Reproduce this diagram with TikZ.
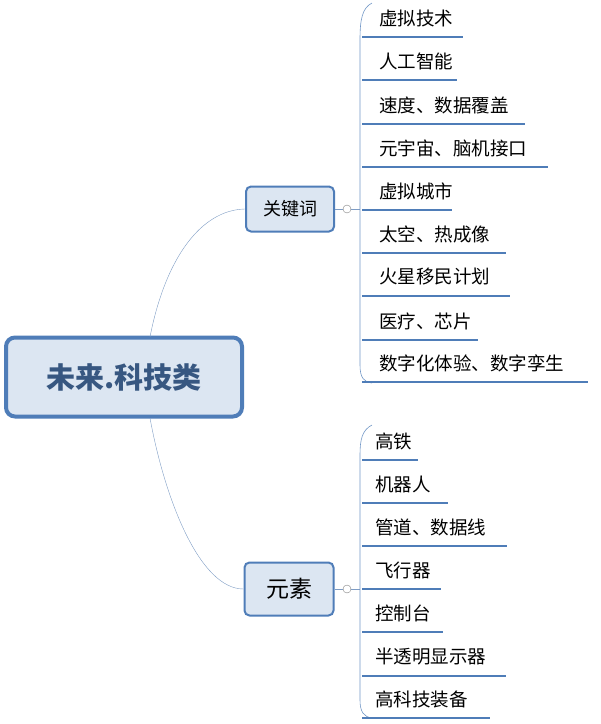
\documentclass[tikz,border=0pt]{standalone}
\usepackage{fontspec}
\setmainfont{Noto Sans CJK SC}
\begin{document}
\begin{tikzpicture}[x=1pt,y=-1pt,
  box/.style={draw=bl,line width=2pt,fill=bf,rounded corners=5pt,inner sep=0pt},
  leaf/.style={anchor=west,inner sep=0pt,font=\fontsize{18.5}{18.5}\selectfont},
  ul/.style={draw=bl,line width=1.6pt},
  br/.style={draw=bl!80,line width=0.6pt},
  knob/.style={circle,draw=gray,fill=white,inner sep=0pt,minimum size=8pt}]
\definecolor{bl}{HTML}{4F7DB8}
\definecolor{bf}{HTML}{DCE6F2}
\definecolor{ln}{HTML}{7E9CC4}
\useasboundingbox (0,0) rectangle (601,724);
\node[box,line width=4pt,rounded corners=9pt,minimum width=236pt,minimum height=79pt,font=\fontsize{29}{29}\selectfont\bfseries,text=bl!70!black] (root) at (124,377) {未来.科技类};
\node[box,minimum width=88pt,minimum height=45pt,font=\fontsize{18}{18}\selectfont] (k) at (290,209) {关键词};
\node[box,minimum width=89pt,minimum height=53pt,font=\fontsize{23}{23}\selectfont] (e) at (289,589) {元素};
\draw[ln] (150,337) .. controls (165,260) and (200,210) .. (k.west);
\draw[ln] (150,418) .. controls (165,500) and (200,589) .. (e.west);
\node[knob] (kc) at (347,209) {};
\node[knob] (ec) at (347,589) {};
\draw[ln] (k.east)--(kc);\draw[ln] (e.east)--(ec);
\coordinate (kb) at (360,209);\coordinate (eb) at (360,589);
\draw[ln] (kc)--(kb);\draw[ln] (ec)--(eb);
\draw[br] (372,3) .. controls (362,8) and (360,20) .. (360,40) -- (360,365) .. controls (360,378) and (364,382) .. (372,383);
\draw[br] (372,425) .. controls (362,430) and (360,440) .. (360,455) -- (360,700) .. controls (360,712) and (364,717) .. (372,718);
\foreach \t/\y/\e [count=\i] in {虚拟技术/37/463,人工智能/80/457,{速度、数据覆盖}/124/525,{元宇宙、脑机接口}/167/548,虚拟城市/210/452,{太空、热成像}/253/506,火星移民计划/296/510,{医疗、芯片}/340/478,{数字化体验、数字孪生}/382/588}{
  \coordinate (a\i) at (362,\y);\coordinate (b\i) at (\e,\y);
  \draw[ul] (a\i)--(b\i);
  \node[leaf] (t\i) at (379,\y-19) {\t};}
\foreach \t/\y/\e [count=\i] in {高铁/460/418,机器人/503/448,{管道、数据线}/546/507,飞行器/589/441,控制台/632/443,半透明显示器/676/506,高科技装备/718/490}{
  \coordinate (c\i) at (362,\y);\coordinate (d\i) at (\e,\y);
  \draw[ul] (c\i)--(d\i);
  \node[leaf] (s\i) at (375,\y-19) {\t};}
\end{tikzpicture}
\end{document}
